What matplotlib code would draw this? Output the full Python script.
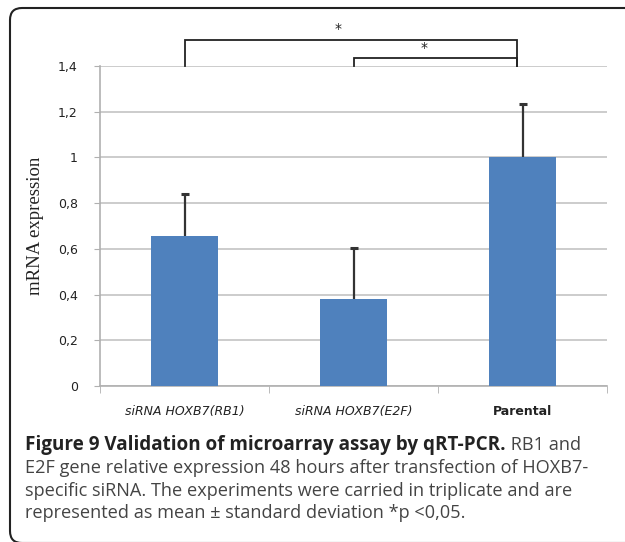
import matplotlib
matplotlib.use("Agg")
import matplotlib.pyplot as plt
from matplotlib.patches import FancyBboxPatch
from matplotlib.transforms import IdentityTransform

categories = ["siRNA HOXB7(RB1)", "siRNA HOXB7(E2F)", "Parental"]
values = [0.655, 0.38, 1.0]
errors = [0.185, 0.225, 0.234]
yticks = [0, 0.2, 0.4, 0.6, 0.8, 1.0, 1.2, 1.4]
ytick_labels = ["0", "0,2", "0,4", "0,6", "0,8", "1", "1,2", "1,4"]
ylabel = "mRNA expression"
caption_bold = "Figure 9 Validation of microarray assay by qRT-PCR."
caption_lines = [
    " RB1 and",
    "E2F gene relative expression 48 hours after transfection of HOXB7-",
    "specific siRNA. The experiments were carried in triplicate and are",
    "represented as mean \u00b1 standard deviation *p <0,05.",
]

W, H = 625, 542
fig = plt.figure(figsize=(W / 100, H / 100), dpi=100)

# rounded border (right and bottom edges run off the image), in pixel units
border = FancyBboxPatch((10, -1), W + 40, H - 8 + 1,
                        boxstyle="round,pad=0,rounding_size=12",
                        transform=IdentityTransform(), fill=False,
                        edgecolor="#222222", linewidth=1.5)
fig.patches.append(border)

ax = fig.add_axes([100 / W, 1 - 386 / H, 507 / W, 320 / H])
x = list(range(len(categories)))
ax.bar(x, values, width=0.4, color="#4F81BD", zorder=3)
eb = ax.errorbar(x, values, yerr=[[0] * len(values), errors], fmt="none",
                 ecolor="#333333", elinewidth=1.6, capsize=3, capthick=2.2, zorder=4)
eb[1][0].set_visible(False)

ax.set_xlim(-0.5, len(categories) - 0.5)
ax.set_ylim(0, 1.4)
ax.set_yticks(yticks)
ax.set_yticklabels(ytick_labels, fontsize=9, family="DejaVu Sans", color="#222222")
ax.yaxis.grid(True, color="#c4c4c4", linewidth=1.2, zorder=0)
ax.set_axisbelow(True)
for s in ["top", "right"]:
    ax.spines[s].set_visible(False)
ax.spines["left"].set_color("#b0b0b0")
ax.spines["bottom"].set_color("#b0b0b0")
ax.spines["left"].set_linewidth(1.2)
ax.spines["bottom"].set_linewidth(1.2)
ax.tick_params(axis="y", length=4, color="#b0b0b0", pad=12)
ax.set_xticks(x)
ax.set_xticks([-0.5, 0.5, 1.5, 2.5], minor=True)
ax.tick_params(axis="x", which="major", length=0, pad=14)
ax.tick_params(axis="x", which="minor", length=5, color="#b0b0b0")
ax.set_xticklabels(categories, fontsize=9, color="#222222")
for lbl in ax.get_xticklabels():
    if lbl.get_text().startswith("siRNA"):
        lbl.set_style("italic")
    else:
        lbl.set_weight("bold")

ax.set_ylabel(ylabel, family="Liberation Serif", fontsize=13.5, labelpad=10,
              color="#222222")

# significance brackets
bk = dict(color="#222222", linewidth=1.3, clip_on=False, solid_joinstyle="miter")
ax.plot([0, 0, 1.97, 1.97], [1.4, 1.515, 1.515, 1.4], **bk)
ax.plot([1.0, 1.0, 1.97, 1.97], [1.4, 1.437, 1.437, 1.4], **bk)
ax.text(0.91, 1.562, "*", ha="center", va="center", fontsize=10, color="#222222")
ax.text(1.42, 1.48, "*", ha="center", va="center", fontsize=10, color="#222222")

# caption
cap_font = "Open Sans"
t0 = fig.text(25 / W, 1 - 445 / H, caption_bold, family=cap_font, weight="bold",
              fontsize=13.6, color="#222222", va="center")
fig.canvas.draw()
bb = t0.get_window_extent()
fig.text(bb.x1 / W, 1 - 445 / H, caption_lines[0], family=cap_font,
         fontsize=13.1, color="#444444", va="center")
for i, line in enumerate(caption_lines[1:]):
    fig.text(25 / W, 1 - (468 + 22.7 * i) / H, line, family=cap_font,
             fontsize=13.1, color="#444444", va="center")

fig.savefig("out.png", dpi=100)
